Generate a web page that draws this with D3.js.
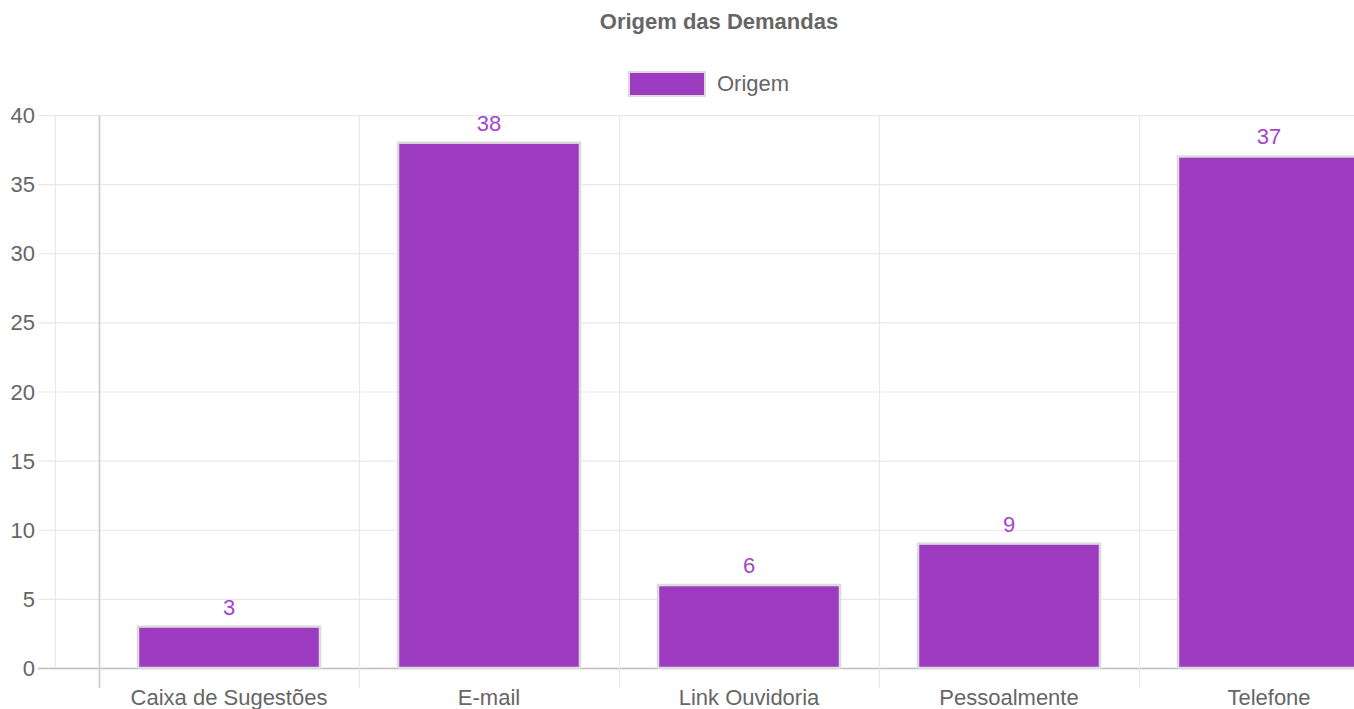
<!DOCTYPE html>
<html><head><meta charset="utf-8">
<script src="https://cdn.jsdelivr.net/npm/d3@7"></script>
<style>body{margin:0;background:#fff;overflow:hidden}svg{display:block;font-family:"Liberation Sans",Arial,sans-serif}</style>
</head><body>
<svg id="c" width="1354" height="709"></svg>
<script>
const categories = ["Caixa de Sugestões","E-mail","Link Ouvidoria","Pessoalmente","Telefone"];
const values = [3,38,6,9,37];
const yTicks = [0,5,10,15,20,25,30,35,40];
const title = "Origem das Demandas";
const seriesName = "Origem";

(function(){
const svg = d3.select("#c");
const plotTop = 115, plotBottom = 668, plotLeft = 99, bandW = 260;
const x = d3.scaleBand().domain(categories).range([plotLeft, plotLeft + bandW*categories.length]).paddingInner(0).paddingOuter(0);
const y = d3.scaleLinear().domain([0,40]).range([plotBottom, plotTop]);
const fill = "#9c3bc0", border = "#dcdcdc", grid = "#e8e8e8", txt = "#666";
const fs = 22;

// title
svg.append("text").attr("x",719).attr("y",29).attr("text-anchor","middle")
  .attr("font-size",fs).attr("font-weight","bold").attr("fill",txt).text(title);
// legend
svg.append("rect").attr("x",629).attr("y",72).attr("width",76).attr("height",24)
  .attr("fill",fill).attr("stroke",border).attr("stroke-width",2);
svg.append("text").attr("x",717).attr("y",91).attr("font-size",fs).attr("fill",txt).text(seriesName);

// horizontal grid + y ticks
const yAxis = svg.append("g");
yTicks.forEach(t=>{
  yAxis.append("line").attr("x1",38).attr("x2",1354).attr("y1",y(t)+0.5).attr("y2",y(t)+0.5)
    .attr("stroke", t===0 ? "#bdbdbd" : grid).attr("stroke-width",t===0?1.5:1.2);
  yAxis.append("text").attr("x",35).attr("y",y(t)+8).attr("text-anchor","end")
    .attr("font-size",fs).attr("fill",txt).text(t);
});
// y axis line
svg.append("line").attr("x1",55.5).attr("x2",55.5).attr("y1",plotTop).attr("y2",plotBottom).attr("stroke",grid).attr("stroke-width",1.2);
// vertical grid at band edges
const edges = categories.map(c=>x(c));
edges.forEach((e,i)=>{
  svg.append("line").attr("x1",e+0.5).attr("x2",e+0.5).attr("y1",plotTop).attr("y2",688)
    .attr("stroke", i===0 ? "#cfcfcf" : grid).attr("stroke-width",i===0?1.8:1.2);
});

// bars
const bw = bandW*0.7;
const g = svg.append("g");
categories.forEach((c,i)=>{
  const cx = x(c)+x.bandwidth()/2;
  g.append("rect").attr("x",cx-bw/2).attr("y",y(values[i])).attr("width",bw).attr("height",plotBottom-y(values[i]))
    .attr("fill",fill).attr("stroke",border).attr("stroke-width",2.5);
  g.append("text").attr("x",cx).attr("y",y(values[i])-12).attr("text-anchor","middle")
    .attr("font-size",fs).attr("fill","#a545cc").text(values[i]);
  svg.append("text").attr("x",cx).attr("y",705).attr("text-anchor","middle")
    .attr("font-size",fs).attr("fill",txt).text(c);
});
})();
</script>
</body></html>
